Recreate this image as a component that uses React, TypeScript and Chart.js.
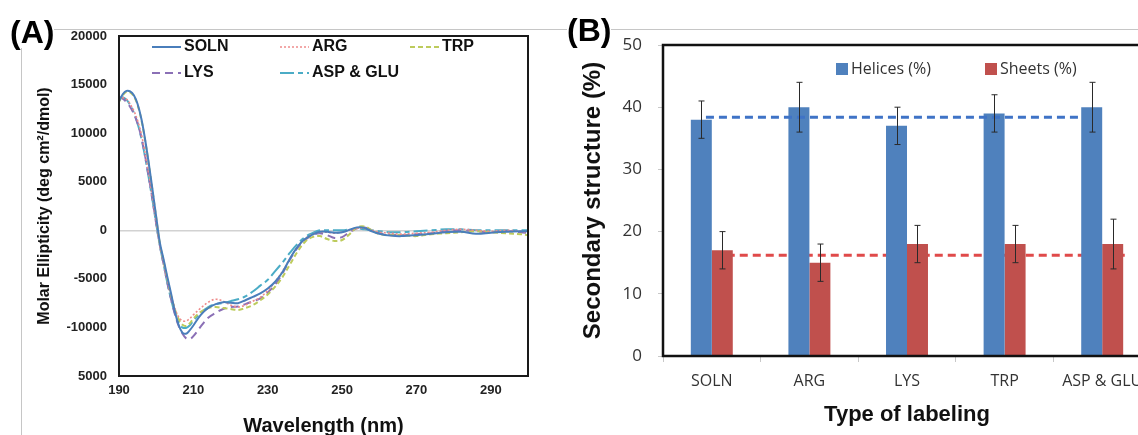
import React, { useEffect, useRef } from 'react';
import { Chart, registerables } from 'chart.js';

Chart.register(...registerables);

// ---------- Panel A: CD spectra ----------
const wavelengths = [190, 191, 192, 193, 194, 195, 196, 197, 198, 199, 200, 201, 202, 203, 204, 205, 206, 207, 208, 209, 210,
  212, 214, 216, 218, 220, 222, 224, 226, 228, 230, 232, 234, 236, 238, 240, 242, 244, 246, 248, 250, 252, 254, 256, 258, 260,
  263, 266, 270, 274, 278, 282, 286, 290, 294, 298, 300];

const solnCD = [13300, 14000, 14350, 14300, 13900, 13000, 11500, 9400, 6900, 4200, 1400, -1300, -3000, -4800, -6500, -8300, -9700, -10500, -10650, -10300, -9800,
  -8700, -8000, -7600, -7400, -7450, -7500, -7200, -6850, -6500, -6000, -5300, -4300, -2900, -1700, -900, -450, -150, -150, -250, -200, 50, 300, 250, -100, -350,
  -550, -600, -500, -350, -200, -150, -350, -250, -150, -100, -100];

const argCD = [13400, 13650, 13500, 13000, 12300, 11300, 9900, 8000, 5800, 3400, 900, -1500, -3300, -5100, -6700, -8000, -8900, -9300, -9350, -9100, -8700,
  -8000, -7400, -7100, -7300, -7700, -7900, -7700, -7300, -6900, -6200, -5300, -4200, -2900, -1700, -900, -400, -200, -200, -300, -200, 0, 200, 200, 0, -200,
  -300, -400, -300, -200, 0, 100, 0, -100, 0, -100, -200];

const trpCD = [13200, 13900, 14250, 14200, 13800, 12900, 11400, 9300, 6800, 4100, 1300, -1400, -3200, -5000, -6700, -8100, -9100, -9700, -9850, -9600, -9100,
  -8400, -8000, -7900, -8000, -8100, -8200, -8000, -7700, -7200, -6600, -5800, -4800, -3500, -2200, -1200, -700, -600, -900, -1100, -1000, -400, 300, 400, 0, -400,
  -500, -500, -600, -400, -300, -200, -100, -200, -300, -400, -500];

const lysCD = [13700, 13550, 13200, 12700, 12000, 11000, 9600, 7700, 5500, 3200, 700, -1600, -3500, -5400, -7100, -8600, -9800, -10600, -11100, -11200, -10900,
  -9900, -9000, -8500, -8100, -7900, -7850, -7600, -7300, -7000, -6400, -5600, -4400, -3000, -1800, -1000, -500, -300, -500, -800, -700, -200, 200, 300, 0, -300,
  -450, -500, -400, -300, -100, 0, -100, -200, -100, -200, -300];

const aspGluCD = [13600, 13700, 13450, 12900, 12100, 11000, 9500, 7600, 5400, 3100, 700, -1600, -3500, -5400, -7100, -8500, -9500, -10000, -10050, -9800, -9300,
  -8500, -7900, -7600, -7500, -7300, -7100, -6800, -6300, -5700, -5100, -4200, -3300, -2300, -1400, -700, -300, 0, 0, 0, 0, 100, 200, 100, 0, -100,
  -200, -200, -100, 0, 100, 100, 0, 0, 0, 0, 0];

const xTicksA = [190, 210, 230, 250, 270, 290];
const yTicksA = [-15000, -10000, -5000, 0, 5000, 10000, 15000, 20000];
const yTickLabelsA = ['5000', '-10000', '-5000', '0', '5000', '10000', '15000', '20000'];

// ---------- Panel B: secondary structure ----------
const categories = ['SOLN', 'ARG', 'LYS', 'TRP', 'ASP & GLU'];
const helices = [38, 40, 37, 39, 40];
const helicesErr = [3, 4, 3, 3, 4];
const sheets = [17, 15, 18, 18, 18];
const sheetsErr = [3, 3, 3, 3, 4];
const helicesMean = 38.4;
const sheetsMean = 16.2;
const helicesMeanSpan = [-0.06, 3.78];
const sheetsMeanSpan = [0.02, 4.27];

const ARIAL = '"Liberation Sans", Arial, sans-serif';
const CALIBRI = '"Open Sans", sans-serif';

const boxPlugin = {
  id: 'box',
  afterDraw(chart: any, _a: any, opts: any) {
    const { ctx, chartArea } = chart;
    const { left, top, right, bottom } = chartArea;
    ctx.save();
    ctx.strokeStyle = opts.color;
    ctx.lineWidth = opts.width;
    ctx.strokeRect(left, top, right - left, bottom - top);
    ctx.restore();
  },
};

const lineLegend = {
  id: 'lineLegend',
  afterDraw(chart: any, _a: any, opts: any) {
    const ctx = chart.ctx;
    ctx.save();
    opts.items.forEach((it: any) => {
      const ds = chart.data.datasets[it.index];
      ctx.strokeStyle = ds.borderColor;
      ctx.lineWidth = ds.borderWidth;
      ctx.setLineDash(ds.borderDash || []);
      ctx.beginPath();
      ctx.moveTo(it.x, it.y);
      ctx.lineTo(it.x + opts.lineLength, it.y);
      ctx.stroke();
      ctx.setLineDash([]);
      ctx.fillStyle = opts.color;
      ctx.font = opts.font;
      ctx.textBaseline = 'middle';
      ctx.textAlign = 'left';
      ctx.fillText(ds.label, it.x + opts.lineLength + opts.gap, it.y);
    });
    ctx.restore();
  },
};

const boxLegend = {
  id: 'boxLegend',
  afterDraw(chart: any, _a: any, opts: any) {
    const ctx = chart.ctx;
    ctx.save();
    opts.items.forEach((it: any) => {
      const ds = chart.data.datasets[it.index];
      ctx.fillStyle = ds.backgroundColor;
      ctx.fillRect(it.x, it.y - opts.box / 2, opts.box, opts.box);
      ctx.fillStyle = opts.color;
      ctx.font = opts.font;
      ctx.textBaseline = 'middle';
      ctx.textAlign = 'left';
      ctx.fillText(ds.label, it.x + opts.box + opts.gap, it.y);
    });
    ctx.restore();
  },
};

function drawMean(chart: any, l: any) {
  const ctx = chart.ctx;
  const xs = chart.scales.x;
  const ys = chart.scales.y;
  const y = ys.getPixelForValue(l.value);
  ctx.save();
  ctx.strokeStyle = l.color;
  ctx.lineWidth = l.width;
  ctx.setLineDash(l.dash);
  ctx.beginPath();
  ctx.moveTo(xs.getPixelForValue(l.span[0]), y);
  ctx.lineTo(xs.getPixelForValue(l.span[1]), y);
  ctx.stroke();
  ctx.restore();
}

const meanLines = {
  id: 'meanLines',
  beforeDatasetsDraw(chart: any, _a: any, opts: any) {
    opts.lines.filter((l: any) => l.behind).forEach((l: any) => drawMean(chart, l));
  },
  afterDatasetsDraw(chart: any, _a: any, opts: any) {
    opts.lines.filter((l: any) => !l.behind).forEach((l: any) => drawMean(chart, l));
  },
};

const errorBars = {
  id: 'errorBars',
  afterDatasetsDraw(chart: any, _a: any, opts: any) {
    const ctx = chart.ctx;
    const y = chart.scales.y;
    ctx.save();
    ctx.strokeStyle = opts.color;
    ctx.lineWidth = opts.width;
    opts.sets.forEach((s: any) => {
      const meta = chart.getDatasetMeta(s.index);
      const vals = chart.data.datasets[s.index].data;
      meta.data.forEach((el: any, j: number) => {
        const v = vals[j];
        const e = s.errors[j];
        const x = Math.round(el.x) + 0.5;
        const yt = y.getPixelForValue(v + e);
        const yb = y.getPixelForValue(v - e);
        ctx.beginPath();
        ctx.moveTo(x, yt);
        ctx.lineTo(x, yb);
        ctx.moveTo(x - opts.cap, yt);
        ctx.lineTo(x + opts.cap, yt);
        ctx.moveTo(x - opts.cap, yb);
        ctx.lineTo(x + opts.cap, yb);
        ctx.stroke();
      });
    });
    ctx.restore();
  },
};

function series(values: number[]) {
  return wavelengths.map((w, i) => ({ x: w, y: values[i] }));
}

export default function App() {
  const refA = useRef<HTMLCanvasElement>(null);
  const refB = useRef<HTMLCanvasElement>(null);

  useEffect(() => {
    const lineCommon = { pointRadius: 0, tension: 0.35, fill: false };
    const chartA = new Chart(refA.current as HTMLCanvasElement, {
      type: 'line',
      data: {
        datasets: [
          { label: 'SOLN', data: series(solnCD), borderColor: '#4A7EBB', borderWidth: 2, borderDash: [], ...lineCommon },
          { label: 'ARG', data: series(argCD), borderColor: '#EE8C8C', borderWidth: 1.6, borderDash: [2, 2], ...lineCommon },
          { label: 'TRP', data: series(trpCD), borderColor: '#BDCB5C', borderWidth: 2, borderDash: [5, 3], ...lineCommon },
          { label: 'LYS', data: series(lysCD), borderColor: '#8B70B6', borderWidth: 2, borderDash: [8, 5], ...lineCommon },
          { label: 'ASP & GLU', data: series(aspGluCD), borderColor: '#4BACC6', borderWidth: 2, borderDash: [14, 4, 5, 4], ...lineCommon },
        ] as any,
      },
      options: {
        animation: false,
        responsive: false,
        maintainAspectRatio: false,
        layout: { padding: { top: 36, right: 32, left: 0, bottom: 0 } },
        plugins: {
          legend: { display: false },
          tooltip: { enabled: false },
          box: { color: '#1a1a1a', width: 2 },
          lineLegend: {
            lineLength: 29,
            gap: 3,
            font: `bold 16px ${ARIAL}`,
            color: '#111',
            items: [
              { index: 0, x: 152, y: 47 },
              { index: 1, x: 280, y: 47 },
              { index: 2, x: 410, y: 47 },
              { index: 3, x: 152, y: 73 },
              { index: 4, x: 280, y: 73 },
            ],
          },
        } as any,
        scales: {
          x: {
            type: 'linear',
            min: 190,
            max: 300,
            afterBuildTicks: (s: any) => { s.ticks = xTicksA.map((v) => ({ value: v })); },
            afterFit: (s: any) => { s.height = 69; },
            grid: { drawOnChartArea: false, drawTicks: false },
            border: { display: false },
            ticks: { font: { family: ARIAL, size: 13, weight: 'bold' }, color: '#222', padding: 7, maxRotation: 0 },
            title: { display: true, text: 'Wavelength (nm)', font: { family: ARIAL, size: 20, weight: 'bold' }, color: '#111', padding: { top: 0, bottom: 7 } },
          },
          y: {
            type: 'linear',
            min: -15000,
            max: 20000,
            afterBuildTicks: (s: any) => { s.ticks = yTicksA.map((v) => ({ value: v })); },
            afterFit: (s: any) => { s.width = 119; },
            grid: {
              color: (c: any) => (c.tick && c.tick.value === 0 ? '#d2d2d2' : 'rgba(0,0,0,0)'),
              drawTicks: false,
              lineWidth: 1.5,
            },
            border: { display: false },
            ticks: {
              font: { family: ARIAL, size: 13, weight: 'bold' },
              color: '#222',
              padding: 12,
              callback: (v: any) => yTickLabelsA[yTicksA.indexOf(Number(v))] ?? '',
            },
            title: { display: true, text: 'Molar Ellipticity (deg cm²/dmol)', font: { family: ARIAL, size: 16, weight: 'bold' }, color: '#111', padding: { top: 35, bottom: 0 } },
          },
        },
      } as any,
      plugins: [boxPlugin, lineLegend] as any,
    });

    const chartB = new Chart(refB.current as HTMLCanvasElement, {
      type: 'bar',
      data: {
        labels: categories,
        datasets: [
          { label: 'Helices (%)', data: helices, backgroundColor: '#4F81BD', categoryPercentage: 0.43, barPercentage: 1 },
          { label: 'Sheets (%)', data: sheets, backgroundColor: '#C0504D', categoryPercentage: 0.43, barPercentage: 1 },
        ] as any,
      },
      options: {
        animation: false,
        responsive: false,
        maintainAspectRatio: false,
        layout: { padding: { top: 45, right: 29, left: 0, bottom: 0 } },
        plugins: {
          legend: { display: false },
          tooltip: { enabled: false },
          box: { color: '#111', width: 2.5 },
          boxLegend: {
            box: 12,
            gap: 3,
            font: `16px ${CALIBRI}`,
            color: '#333',
            items: [
              { index: 0, x: 276, y: 69 },
              { index: 1, x: 425, y: 69 },
            ],
          },
          meanLines: {
            lines: [
              { value: helicesMean, span: helicesMeanSpan, color: '#3F73C6', width: 3, dash: [8, 5], behind: false },
              { value: sheetsMean, span: sheetsMeanSpan, color: '#E04A4A', width: 3, dash: [8, 5], behind: true },
            ],
          },
          errorBars: {
            color: '#2a2a2a',
            width: 1,
            cap: 3,
            sets: [
              { index: 0, errors: helicesErr },
              { index: 1, errors: sheetsErr },
            ],
          },
        } as any,
        scales: {
          x: {
            type: 'category',
            afterFit: (s: any) => { s.height = 79; },
            grid: { offset: true, drawOnChartArea: false, drawTicks: true, tickLength: 6, color: '#c8c8c8' },
            border: { display: false },
            ticks: { font: { family: CALIBRI, size: 16 }, color: '#333', padding: 10, maxRotation: 0 },
            title: { display: true, text: 'Type of labeling', font: { family: ARIAL, size: 22, weight: 'bold' }, color: '#111', padding: { top: 0, bottom: 7 } },
          },
          y: {
            type: 'linear',
            min: 0,
            max: 50,
            ticks: { stepSize: 10, font: { family: CALIBRI, size: 17 }, color: '#333', padding: 16 },
            afterFit: (s: any) => { s.width = 103; },
            grid: { drawOnChartArea: false, drawTicks: true, tickLength: 5, color: '#c8c8c8' },
            border: { display: false },
            title: { display: true, text: 'Secondary structure (%)', font: { family: ARIAL, size: 24, weight: 'bold' }, color: '#111', padding: { top: 19, bottom: 0 } },
          },
        },
      } as any,
      plugins: [boxPlugin, boxLegend, meanLines, errorBars] as any,
    });

    return () => {
      chartA.destroy();
      chartB.destroy();
    };
  }, []);

  const labelStyle: React.CSSProperties = {
    position: 'absolute',
    font: `bold 32px ${ARIAL}`,
    lineHeight: '32px',
    background: '#fff',
    color: '#000',
    zIndex: 3,
  };

  return (
    <div style={{ position: 'absolute', left: 0, top: 0, width: 1138, height: 435, overflow: 'hidden', background: '#fff' }}>
      <div style={{ position: 'absolute', left: 21, top: 29, width: 1117, height: 1, background: '#c6c6c6' }} />
      <div style={{ position: 'absolute', left: 21, top: 29, width: 1, height: 406, background: '#c6c6c6' }} />
      <canvas ref={refA} width={560} height={445} style={{ position: 'absolute', left: 0, top: 0, width: 560, height: 445, zIndex: 1 }} />
      <canvas ref={refB} width={620} height={435} style={{ position: 'absolute', left: 560, top: 0, width: 620, height: 435, zIndex: 1 }} />
      <div style={{ ...labelStyle, left: 10, top: 16 }}>(A)</div>
      <div style={{ ...labelStyle, left: 567, top: 14 }}>(B)</div>
    </div>
  );
}
